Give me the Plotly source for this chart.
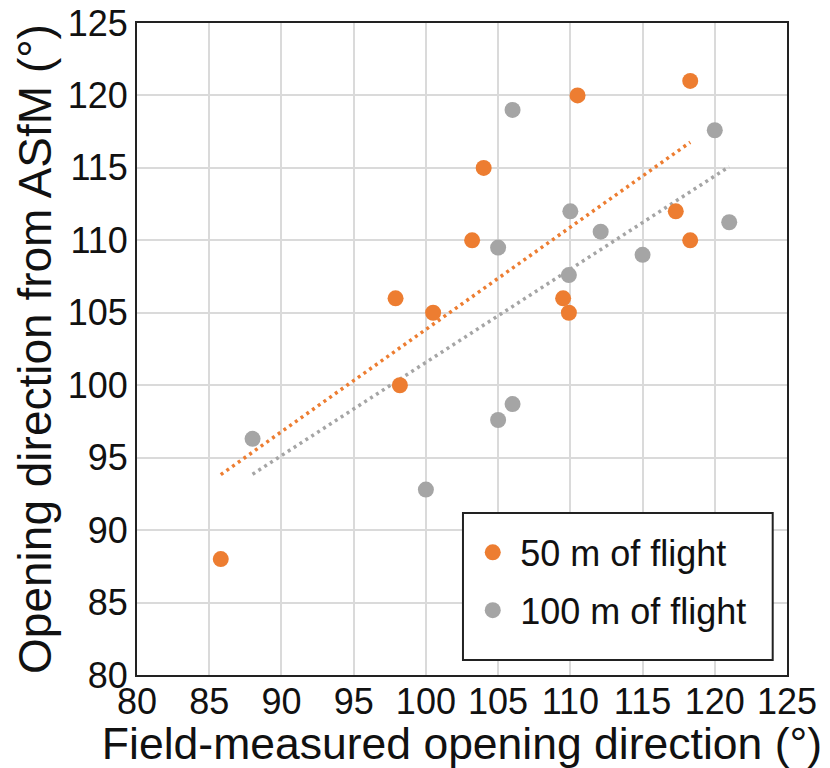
import numpy as np
import plotly.graph_objects as go

# 50 m of flight
x50 = [118.3, 110.5, 104.0, 117.3, 103.2, 118.3, 97.9, 100.5, 109.5, 109.9, 98.2, 85.8]
y50 = [121.0, 120.0, 115.0, 112.0, 110.0, 110.0, 106.0, 105.0, 106.0, 105.0, 100.0, 88.0]
# 100 m of flight
x100 = [106.0, 120.0, 110.0, 112.1, 121.0, 105.0, 115.0, 109.9, 106.0, 105.0, 88.0, 100.0]
y100 = [119.0, 117.6, 112.0, 110.6, 111.25, 109.5, 109.0, 107.6, 98.7, 97.6, 96.3, 92.8]

names = ["50 m of flight", "100 m of flight"]
ticks = [80, 85, 90, 95, 100, 105, 110, 115, 120, 125]

ORANGE = "#ED7D31"
GRAY = "#A5A5A5"
FONT = "Liberation Sans, Arial, sans-serif"

fig = go.Figure()

for xs, ys, col, nm in [(x50, y50, ORANGE, names[0]), (x100, y100, GRAY, names[1])]:
    k, b = np.polyfit(xs, ys, 1)
    lx = np.array([min(xs), max(xs)])
    fig.add_trace(go.Scatter(x=lx, y=k * lx + b, mode="lines",
                             line=dict(color=col, width=3.5, dash="3px,4px"),
                             showlegend=False, hoverinfo="skip"))

for xs, ys, col, nm in [(x50, y50, ORANGE, names[0]), (x100, y100, GRAY, names[1])]:
    fig.add_trace(go.Scatter(x=xs, y=ys, mode="markers", name=nm, legendgroup=nm,
                             marker=dict(color=col, size=16)))

axis_common = dict(
    tickvals=ticks, showgrid=True, gridcolor="#DADADA", gridwidth=2,
    showline=True, linecolor="#222222", linewidth=2, mirror=True,
    zeroline=False, ticks="", ticklen=0, automargin=False,
    tickfont=dict(size=36, color="#111111", family=FONT),
)

fig.update_xaxes(range=[80, 125], ticklabelstandoff=-6,
                 title=dict(text="Field-measured opening direction (°)",
                            font=dict(size=44.5, color="#111111", family=FONT), standoff=8),
                 **axis_common)
fig.update_yaxes(range=[80, 125], ticklabelstandoff=0,
                 title=dict(text="Opening direction from ASfM (°)",
                            font=dict(size=46, color="#111111", family=FONT), standoff=2),
                 **axis_common)

# legend frame
fig.add_shape(type="rect", xref="paper", yref="paper",
              x0=0.5015, x1=0.978, y0=0.023, y1=0.2485,
              line=dict(color="#222222", width=2), fillcolor="white", layer="above")

fig.update_layout(
    width=830, height=768,
    margin=dict(l=137, r=43, t=23, b=93, autoexpand=False),
    paper_bgcolor="white", plot_bgcolor="white",
    font=dict(family=FONT, color="#111111"),
    legend=dict(x=0.505, y=0.234, xanchor="left", yanchor="top",
                bgcolor="rgba(0,0,0,0)", borderwidth=0,
                font=dict(size=36, family=FONT, color="#111111"),
                itemwidth=45, tracegroupgap=8),
)

fig.write_html("out.html")
